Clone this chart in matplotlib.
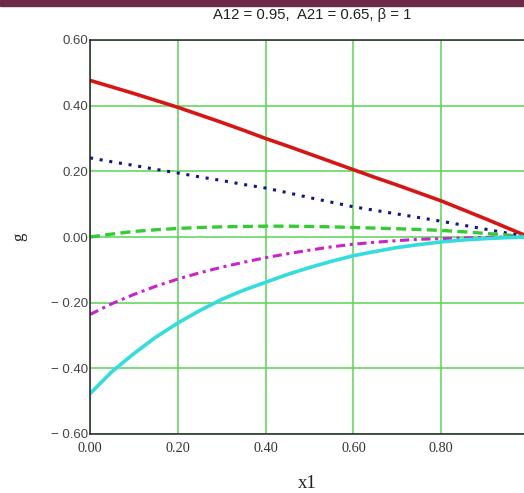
import matplotlib.pyplot as plt
from matplotlib.patches import Rectangle

# values
x1 = [0.0, 0.05, 0.1, 0.15, 0.2, 0.25, 0.3, 0.35, 0.4, 0.45, 0.5,
      0.55, 0.6, 0.65, 0.7, 0.75, 0.8, 0.85, 0.9, 0.95, 1.0]
red = [0.477, 0.457, 0.437, 0.416, 0.395, 0.372, 0.349, 0.325, 0.30, 0.277, 0.253,
       0.229, 0.205, 0.181, 0.158, 0.134, 0.11, 0.083, 0.056, 0.028, 0.0]
blue = [0.241, 0.229, 0.218, 0.206, 0.195, 0.183, 0.172, 0.16, 0.149, 0.135, 0.12,
        0.106, 0.092, 0.081, 0.07, 0.059, 0.048, 0.036, 0.024, 0.012, 0.0]
green = [0.0, 0.009, 0.017, 0.022, 0.026, 0.029, 0.031, 0.032, 0.033, 0.033, 0.032,
         0.031, 0.029, 0.027, 0.025, 0.023, 0.02, 0.016, 0.011, 0.006, 0.0]
magenta = [-0.236, -0.203, -0.175, -0.15, -0.128, -0.109, -0.092, -0.077, -0.063, -0.051, -0.04,
           -0.03, -0.022, -0.016, -0.011, -0.007, -0.005, -0.003, -0.001, 0.0, 0.0]
cyan = [-0.477, -0.41, -0.355, -0.305, -0.262, -0.224, -0.19, -0.162, -0.138, -0.114, -0.093,
        -0.074, -0.057, -0.044, -0.032, -0.023, -0.015, -0.009, -0.005, -0.002, 0.0]

xticks = [0.0, 0.2, 0.4, 0.6, 0.8]
yticks = [-0.6, -0.4, -0.2, 0.0, 0.2, 0.4, 0.6]


def ylab(v):
    s = f'{abs(v):.2f}'
    return '\u2212 ' + s if v < 0 else s


fig = plt.figure(figsize=(5.24, 4.93), dpi=100)
fig.patches.append(Rectangle((0, 0.988), 1, 0.012, transform=fig.transFigure,
                             color='#6e2a48', zorder=5))
ax = fig.add_axes([90 / 524, 1 - 434 / 493, 439 / 524, 394 / 493])

ax.plot(x1, red, color='#d81515', lw=2.6, solid_capstyle='round')
ax.plot(x1, blue, color='#14148c', lw=2.2, linestyle=(0, (1, 2.2)))
ax.plot(x1, green, color='#33cc33', lw=2.4, linestyle=(0, (3, 1.6)))
ax.plot(x1, magenta, color='#cc22cc', lw=2.2, linestyle=(0, (3, 1.5, 1, 1.5)))
ax.plot(x1, cyan, color='#33dddd', lw=2.6)

ax.set_xlim(0, 1.0)
ax.set_ylim(-0.6, 0.6)
ax.set_xticks(xticks)
ax.set_xticklabels([f'{v:.2f}' for v in xticks], family='Liberation Serif',
                   fontsize=10.3, color='#333333')
ax.set_yticks(yticks)
ax.set_yticklabels([ylab(v) for v in yticks], family='Liberation Sans',
                   fontsize=9.5, color='#444444')
ax.tick_params(axis='y', length=0, pad=1)
ax.tick_params(axis='x', length=0, pad=6)
ax.grid(True, color='#55d655', lw=1.1)
ax.set_axisbelow(True)
for side in ['left', 'bottom', 'top']:
    ax.spines[side].set_color('#222222')
    ax.spines[side].set_linewidth(1.1)
ax.spines['right'].set_visible(False)

fig.text(312 / 524, 1 - 15 / 493, 'A12 = 0.95,  A21 = 0.65, \u03b2 = 1',
         ha='center', va='center', family='Liberation Sans', fontsize=10.7,
         color='#222222')
fig.text(307 / 524, 1 - 483 / 493, 'x1', ha='center', va='center',
         family='Liberation Serif', fontsize=13.5, color='#222222')
fig.text(19 / 524, 1 - 237 / 493, 'g', ha='center', va='center', rotation=90,
         family='Liberation Serif', fontsize=12, color='#222222')

fig.savefig('out.png', dpi=100)
